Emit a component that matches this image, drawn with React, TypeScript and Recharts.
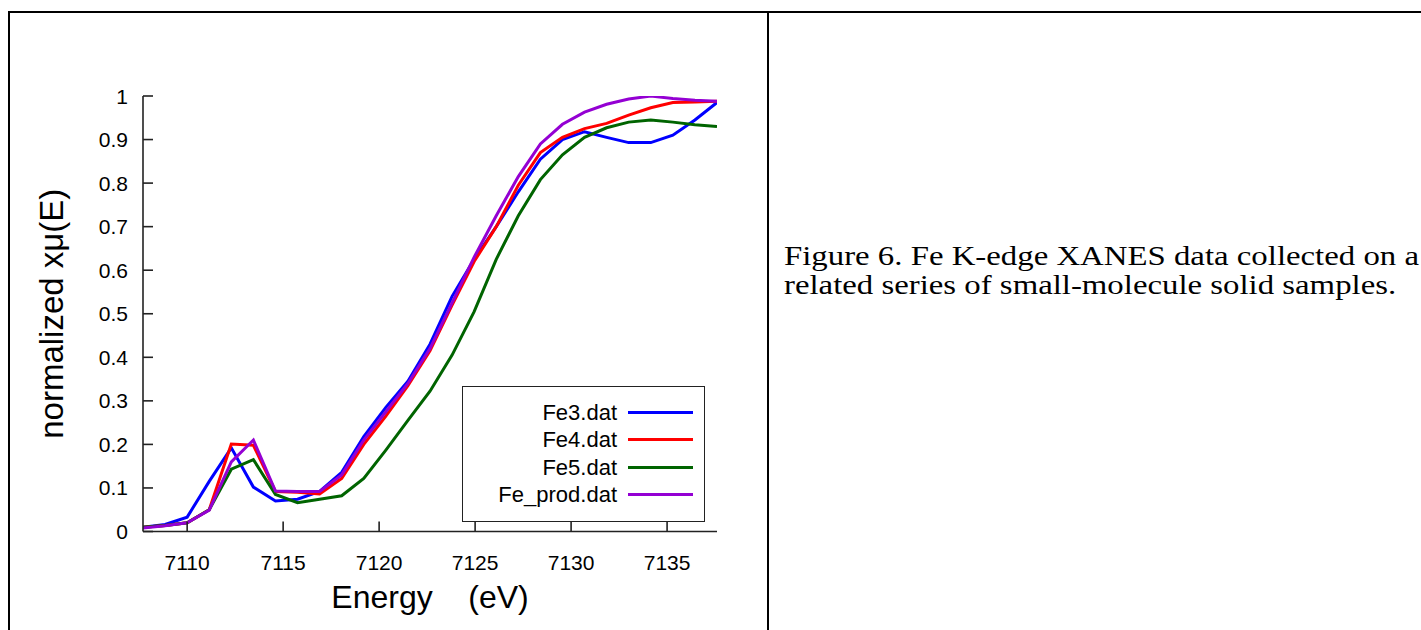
import React from 'react';
import { ComposedChart, Line, XAxis, YAxis, Legend } from 'recharts';

const energies = [7107.7, 7108.85, 7110.0, 7111.15, 7112.3, 7113.45, 7114.6, 7115.75, 7116.9, 7118.05, 7119.2, 7120.35, 7121.5, 7122.65, 7123.8, 7124.95, 7126.1, 7127.25, 7128.4, 7129.55, 7130.7, 7131.85, 7133.0, 7134.15, 7135.3, 7136.45, 7137.6];
const fe3 = [0.010, 0.016, 0.033, 0.115, 0.192, 0.102, 0.070, 0.074, 0.092, 0.136, 0.218, 0.285, 0.345, 0.430, 0.540, 0.625, 0.700, 0.780, 0.855, 0.900, 0.918, 0.905, 0.893, 0.893, 0.910, 0.945, 0.985];
const fe4 = [0.010, 0.014, 0.020, 0.050, 0.201, 0.198, 0.092, 0.090, 0.086, 0.122, 0.200, 0.265, 0.335, 0.415, 0.520, 0.620, 0.700, 0.795, 0.870, 0.905, 0.925, 0.937, 0.956, 0.973, 0.985, 0.986, 0.988];
const fe5 = [0.010, 0.014, 0.020, 0.050, 0.143, 0.165, 0.085, 0.066, 0.074, 0.082, 0.122, 0.187, 0.255, 0.322, 0.405, 0.505, 0.625, 0.725, 0.808, 0.865, 0.905, 0.927, 0.940, 0.945, 0.940, 0.934, 0.930];
const feProd = [0.008, 0.013, 0.020, 0.049, 0.160, 0.210, 0.093, 0.092, 0.092, 0.130, 0.210, 0.275, 0.340, 0.420, 0.525, 0.630, 0.725, 0.815, 0.890, 0.935, 0.963, 0.981, 0.993, 1.000, 0.994, 0.990, 0.988];

const seriesKeys = ['fe3', 'fe4', 'fe5', 'feProd'];
const seriesNames = ['Fe3.dat', 'Fe4.dat', 'Fe5.dat', 'Fe_prod.dat'];
const seriesColors = ['#0000ff', '#ff0000', '#006400', '#9400d3'];

const xTicks = [7110, 7115, 7120, 7125, 7130, 7135];
const yTicks = [0, 0.1, 0.2, 0.3, 0.4, 0.5, 0.6, 0.7, 0.8, 0.9, 1];
const yTickLabels = ['0', '0.1', '0.2', '0.3', '0.4', '0.5', '0.6', '0.7', '0.8', '0.9', '1'];
const xDomain = [7107.7, 7137.6];
const yDomain = [0, 1];

const xTitle = 'Energy    (eV)';
const yTitle = 'normalized xμ(E)';
const captionLines = ['Figure 6. Fe K-edge XANES data collected on a', 'related series of small-molecule solid samples.'];

const data = energies.map((e, i) => ({ e, fe3: fe3[i], fe4: fe4[i], fe5: fe5[i], feProd: feProd[i] }));

const AX = '#222';
const TICK = 10;
const SANS = '"Liberation Sans", Arial, sans-serif';

const BottomTick = (p: any) => {
  const { x, y, payload } = p;
  return (
    <g>
      <line x1={x} y1={y} x2={x} y2={y - TICK} stroke={AX} strokeWidth={1.6} />
      <text x={x} y={y + 38} textAnchor="middle" fontFamily={SANS} fontSize={21} fill="#000">{payload.value}</text>
    </g>
  );
};
const TopTick = (p: any) => {
  const { x, y } = p;
  return <line x1={x} y1={y} x2={x} y2={y + TICK} stroke={AX} strokeWidth={1.6} />;
};
const LeftTick = (p: any) => {
  const { x, y, payload } = p;
  const label = yTickLabels[yTicks.indexOf(payload.value)] ?? String(payload.value);
  return (
    <g>
      <line x1={x} y1={y} x2={x + TICK} y2={y} stroke={AX} strokeWidth={1.6} />
      <text x={x - 15} y={y + 7.5} textAnchor="end" fontFamily={SANS} fontSize={21} fill="#000">{label}</text>
    </g>
  );
};
const RightTick = (p: any) => {
  const { x, y } = p;
  return <line x1={x} y1={y} x2={x - TICK} y2={y} stroke={AX} strokeWidth={1.6} />;
};

const XTitle = (p: any) => {
  const vb = p.viewBox;
  return (
    <text x={vb.x + vb.width / 2} y={vb.y + 76} textAnchor="middle" fontFamily={SANS} fontSize={32} fill="#000" style={{ whiteSpace: 'pre' }}>{xTitle}</text>
  );
};
const YTitle = (p: any) => {
  const vb = p.viewBox;
  const cx = vb.x + 63;
  const cy = vb.y + vb.height / 2;
  return (
    <text x={cx} y={cy} transform={`rotate(-90 ${cx} ${cy})`} textAnchor="middle" fontFamily={SANS} fontSize={33} fill="#000">{yTitle}</text>
  );
};

const LegendBox = () => (
  <div style={{ position: 'relative', width: 243, height: 136, boxSizing: 'border-box', border: `1.6px solid ${AX}`, background: '#fff', fontFamily: SANS, fontSize: 22, color: '#000' }}>
    <div style={{ position: 'absolute', left: 0, top: 12 }}>
      {seriesNames.map((n, i) => (
        <div key={n} style={{ display: 'flex', alignItems: 'center', height: 27.3 }}>
          <div style={{ width: 154, textAlign: 'right', lineHeight: '27px', whiteSpace: 'nowrap' }}>{n}</div>
          <div style={{ width: 65, height: 3, marginLeft: 11, background: seriesColors[i] }} />
        </div>
      ))}
    </div>
  </div>
);

export default function App() {
  return (
    <div style={{ position: 'absolute', left: 0, top: 0, width: 1421, height: 630, background: '#fff', overflow: 'hidden' }}>
      {/* table borders */}
      <div style={{ position: 'absolute', left: 8, top: 11, width: 1413, height: 2, background: '#000' }} />
      <div style={{ position: 'absolute', left: 8, top: 11, width: 2, height: 619, background: '#000' }} />
      <div style={{ position: 'absolute', left: 767, top: 11, width: 2, height: 619, background: '#000' }} />

      <div style={{ position: 'absolute', left: 0, top: 0 }}>
        <ComposedChart width={760} height={630} data={data} margin={{ top: 96, right: 43, bottom: 0, left: 0 }}>
          <XAxis xAxisId="b" dataKey="e" type="number" domain={xDomain} ticks={xTicks} interval={0} allowDataOverflow
            orientation="bottom" height={98.5} tickSize={0} tickMargin={0} tickLine={false}
            axisLine={{ stroke: AX, strokeWidth: 1.6 }} tick={<BottomTick />} label={<XTitle />} />
          <XAxis xAxisId="t" dataKey="e" type="number" domain={xDomain} ticks={xTicks} interval={0} allowDataOverflow
            orientation="top" height={0} tickSize={0} tickMargin={0} tickLine={false}
            axisLine={{ stroke: AX, strokeWidth: 1.6 }} tick={<TopTick />} />
          <YAxis yAxisId="l" type="number" domain={yDomain} ticks={yTicks} interval={0} allowDataOverflow
            orientation="left" width={143} tickSize={0} tickMargin={0} tickLine={false}
            axisLine={{ stroke: AX, strokeWidth: 1.6 }} tick={<LeftTick />} label={<YTitle />} />
          <YAxis yAxisId="r" type="number" domain={yDomain} ticks={yTicks} interval={0} allowDataOverflow
            orientation="right" width={0} tickSize={0} tickMargin={0} tickLine={false}
            axisLine={{ stroke: AX, strokeWidth: 1.6 }} tick={<RightTick />} />
          {seriesKeys.map((k, i) => (
            <Line key={k} xAxisId="b" yAxisId="l" dataKey={k} name={seriesNames[i]} type="linear"
              stroke={seriesColors[i]} strokeWidth={3} dot={false} activeDot={false} isAnimationActive={false} />
          ))}
          <Legend layout="horizontal" verticalAlign="middle" align="center" content={<LegendBox />}
            wrapperStyle={{ position: 'absolute', left: 462, top: 386, width: 243, height: 136, margin: 0, padding: 0 }} />
        </ComposedChart>
      </div>

      <div style={{ position: 'absolute', left: 784, top: 241.5, fontFamily: '"Liberation Serif", "Times New Roman", serif', fontSize: 27, lineHeight: '29.8px', color: '#000', whiteSpace: 'nowrap', transform: 'scaleX(1.215)', transformOrigin: '0 0' }}>
        {captionLines.map((l) => <div key={l}>{l}</div>)}
      </div>
    </div>
  );
}
